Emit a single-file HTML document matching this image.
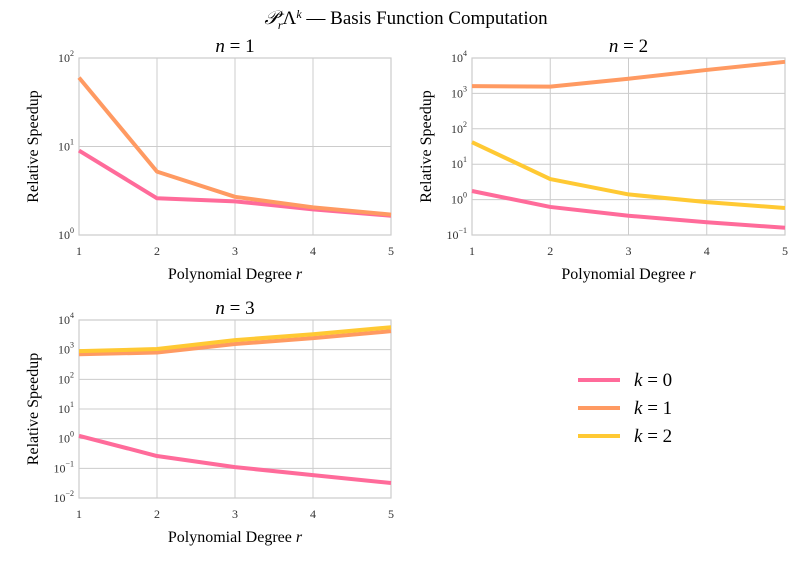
<!DOCTYPE html>
<html><head><meta charset="utf-8"><style>
body{margin:0;background:#fff;}
svg{font-family:"Liberation Serif",serif;}
</style></head><body>
<svg id="chart" width="812" height="562" xmlns="http://www.w3.org/2000/svg">
<rect width="812" height="562" fill="#fff"/>
<text x="406" y="24" text-anchor="middle" font-size="19"><tspan font-style="italic">𝒫</tspan><tspan font-size="12" dy="-6">−</tspan><tspan font-size="12" font-style="italic" dx="-7" dy="11">r</tspan><tspan dy="-5">Λ</tspan><tspan font-size="12" font-style="italic" dy="-6">k</tspan><tspan dy="6"> — Basis Function Computation</tspan></text>
</svg>
<script>
const degrees=[1,2,3,4,5];
const n1k0=[9,2.6,2.4,1.95,1.65];
const n1k1=[60,5.2,2.7,2.05,1.7];
const n2k0=[1.75,0.62,0.35,0.23,0.16];
const n2k1=[1600,1550,2600,4600,7800];
const n2k2=[42,3.8,1.4,0.85,0.58];
const n3k0=[1.25,0.26,0.11,0.059,0.032];
const n3k1=[700,800,1550,2450,4200];
const n3k2=[890,1050,2100,3300,5700];
const colors=["#ff6b9a","#ff9a62","#ffc933"];
const legendLabels=["0","1","2"];
const svg=document.getElementById('chart');
const NS="http://www.w3.org/2000/svg";
function mk(tag,attrs){const e=document.createElementNS(NS,tag);for(const k in attrs)e.setAttribute(k,attrs[k]);svg.appendChild(e);return e;}
const panels=[
 {n:1,x0:79,x1:391,y0:58,y1:235,lmin:0,lmax:2,series:[[n1k0,0],[n1k1,1]]},
 {n:2,x0:472,x1:785,y0:58,y1:235,lmin:-1,lmax:4,series:[[n2k0,0],[n2k1,1],[n2k2,2]]},
 {n:3,x0:79,x1:391,y0:320,y1:498,lmin:-2,lmax:4,series:[[n3k0,0],[n3k1,1],[n3k2,2]]}
];
panels.forEach(p=>{
 const xs=d=>p.x0+(d-1)/4*(p.x1-p.x0);
 const ys=v=>p.y1-(Math.log10(v)-p.lmin)/(p.lmax-p.lmin)*(p.y1-p.y0);
 for(let d=1;d<=5;d++){
  const g=mk('line',{x1:xs(d),x2:xs(d),y1:p.y0,y2:p.y1,stroke:'#cccccc','stroke-width':1});
  
  
  const t=mk('text',{x:xs(d),y:p.y1+20,'text-anchor':'middle','font-size':12,fill:'#333'});
  t.textContent=d;
  
  
 }
 for(let e=p.lmin;e<=p.lmax;e++){
  const y=p.y1-(e-p.lmin)/(p.lmax-p.lmin)*(p.y1-p.y0);
  const g=mk('line',{x1:p.x0,x2:p.x1,y1:y,y2:y,stroke:'#cccccc','stroke-width':1});
  
  
  const t=mk('text',{x:p.x0-5,y:y+4,'text-anchor':'end','font-size':12,fill:'#333'});
  t.innerHTML='10<tspan font-size="8" dy="-6">'+(e<0?'−'+(-e):e)+'</tspan>';
  
  
 }
 const fr=mk('rect',{x:p.x0,y:p.y0,width:p.x1-p.x0,height:p.y1-p.y0,fill:'none',stroke:'#cccccc','stroke-width':1.2});
 
 
 p.series.forEach(([vals,k])=>{
  const pts=vals.map((v,i)=>xs(degrees[i])+','+ys(v)).join(' ');
  const l=mk('polyline',{points:pts,fill:'none',stroke:colors[k],'stroke-width':4,'stroke-linejoin':'round'});
  
  
 });
 const ti=mk('text',{x:(p.x0+p.x1)/2,y:p.y0-6,'text-anchor':'middle','font-size':19});
 ti.innerHTML='<tspan font-style="italic">n</tspan> = '+p.n;
 
 
 const xl=mk('text',{x:(p.x0+p.x1)/2,y:p.y1+44,'text-anchor':'middle','font-size':16});
 xl.innerHTML='Polynomial Degree <tspan font-style="italic">r</tspan>';
 
 
 const cy=(p.y0+p.y1)/2, cx=p.x0-41;
 const yl=mk('text',{x:cx,y:cy,'text-anchor':'middle','font-size':16,transform:'rotate(-90 '+cx+' '+cy+')'});
 yl.textContent='Relative Speedup';
 
 
});
legendLabels.forEach((lab,i)=>{
 const y=380+i*28;
 const l=mk('line',{x1:578,x2:620,y1:y,y2:y,stroke:colors[i],'stroke-width':4});
 
 
 const t=mk('text',{x:634,y:y+6,'font-size':19});
 t.innerHTML='<tspan font-style="italic">k</tspan> = '+lab;
 
 
});
</script>
</body></html>
